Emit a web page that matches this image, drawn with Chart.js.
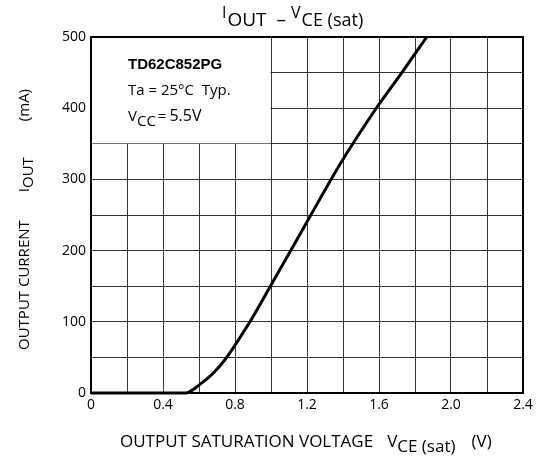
<!DOCTYPE html>
<html>
<head>
<meta charset="utf-8">
<script src="https://cdn.jsdelivr.net/npm/chart.js@4/dist/chart.umd.min.js"></script>
<style>
  html, body { margin: 0; padding: 0; background: #fff; }
  #wrap { width: 541px; height: 457px; }
</style>
</head>
<body>
<div id="wrap"><canvas id="ioutChart" width="541" height="457"></canvas></div>
<script>
// curve: VCE(sat) in V, IOUT in mA
const vceSat = [0, 0.53, 0.60, 0.68, 0.754, 0.883, 0.99, 1.19, 1.38, 1.59, 1.73, 1.865];
const iOut   = [0, 0,    11,   28,   50,    100,   147,  236,  320,  402,  451,  500];

// labelled ticks (grid runs every 0.2 V / 50 mA)
const xTickLabels = ['0', '0.4', '0.8', '1.2', '1.6', '2.0', '2.4'];
const yTickLabels = ['0', '100', '200', '300', '400', '500'];

const FONT = '"Open Sans", "DejaVu Sans", sans-serif';
const f = (size, bold) => (bold ? 'bold ' : '') + size + 'px ' + FONT;

// draw a run of text pieces (for the subscripts)
function drawRich(ctx, x, y, parts, align) {
  let total = 0;
  parts.forEach(p => {
    ctx.font = p.font;
    p.w = ctx.measureText(p.t).width + (p.gap || 0);
    total += p.w;
  });
  let cx = align === 'center' ? x - total / 2 : x;
  parts.forEach(p => {
    ctx.font = p.font;
    ctx.fillText(p.t, cx, y + (p.dy || 0));
    cx += p.w;
  });
}

const textPlugin = {
  id: 'datasheetText',
  beforeDatasetsDraw(chart) {
    const ctx = chart.ctx;
    const xs = chart.scales.x, ys = chart.scales.y;
    // white note box over the upper-left grid cells
    const l = xs.getPixelForValue(0), r = xs.getPixelForValue(1.0);
    const t = ys.getPixelForValue(500), b = ys.getPixelForValue(350);
    ctx.save();
    ctx.fillStyle = '#fff';
    ctx.fillRect(l + 1, t + 1, r - l - 1.5, b - t - 1.5);
    ctx.fillStyle = '#000';
    ctx.textBaseline = 'alphabetic';
    ctx.textAlign = 'left';
    ctx.font = 'bold 15px "Liberation Sans", Arial, sans-serif';
    ctx.fillText('TD62C852PG', 128, 69);
    drawRich(ctx, 128, 95, [{ t: 'Ta = 25°C  Typ.', font: f(15) }], 'left');
    drawRich(ctx, 128, 121, [
      { t: 'V', font: f(15) },
      { t: 'CC', font: f(15), dy: 5, gap: 2 },
      { t: '=', font: f(15), gap: 3 },
      { t: '5.5V', font: f(16) }
    ], 'left');
    ctx.restore();
  },
  afterDatasetsDraw(chart) {
    const ctx = chart.ctx;
    const a = chart.chartArea;
    ctx.save();
    ctx.strokeStyle = '#000';
    ctx.lineWidth = 2;
    ctx.strokeRect(a.left, a.top, a.right - a.left, a.bottom - a.top);

    ctx.fillStyle = '#000';
    ctx.textBaseline = 'alphabetic';
    // title
    drawRich(ctx, 222, 26, [
      { t: 'I', font: f(16), dy: -8, gap: 1 },
      { t: 'OUT', font: f(19), gap: 10 },
      { t: '–', font: f(19), gap: 5 },
      { t: 'V', font: f(16), dy: -8, gap: 1 },
      { t: 'CE (sat)', font: f(18) }
    ], 'left');
    // x axis title
    drawRich(ctx, 120, 447, [
      { t: 'OUTPUT SATURATION VOLTAGE', font: f(17), gap: 14 },
      { t: 'V', font: f(17) },
      { t: 'CE (sat)', font: f(17), dy: 5, gap: 16 },
      { t: '(V)', font: f(17) }
    ], 'left');
    // y axis title, reading upwards
    ctx.translate(29, 350);
    ctx.rotate(-Math.PI / 2);
    drawRich(ctx, 0, 0, [
      { t: 'OUTPUT CURRENT', font: f(15), gap: 28 },
      { t: 'I', font: f(15) },
      { t: 'OUT', font: f(15), dy: 4, gap: 36 },
      { t: '(mA)', font: f(15) }
    ], 'left');
    ctx.restore();
  }
};

const ctx = document.getElementById('ioutChart').getContext('2d');

const chart = new Chart(ctx, {
  type: 'line',
  data: {
    datasets: [{
      data: vceSat.map((v, i) => ({ x: v, y: iOut[i] })),
      borderColor: '#000',
      borderWidth: 3,
      pointRadius: 0,
      tension: 0.25,
      clip: false,
      fill: false
    }]
  },
  options: {
    responsive: false,
    animation: false,
    layout: { padding: { top: 37, right: 18, left: 0, bottom: 0 } },
    plugins: {
      legend: { display: false },
      tooltip: { enabled: false },
      title: { display: false }
    },
    scales: {
      x: {
        type: 'linear',
        min: 0,
        max: 2.4,
        afterFit: s => { s.height = 64; },
        grid: { color: '#333', lineWidth: 1, drawTicks: false },
        border: { display: true, color: '#000', width: 2 },
        ticks: {
          stepSize: 0.2,
          autoSkip: false,
          maxRotation: 0,
          padding: 4,
          color: '#000',
          font: { family: FONT, size: 14 },
          callback: v => {
            const lbl = xTickLabels.find(s => Math.abs(parseFloat(s) - v) < 1e-6);
            return lbl === undefined ? '' : lbl;
          }
        }
      },
      y: {
        type: 'linear',
        min: 0,
        max: 500,
        afterFit: s => { s.width = 91; },
        grid: { color: '#333', lineWidth: 1, drawTicks: false },
        border: { display: true, color: '#000', width: 2 },
        ticks: {
          stepSize: 50,
          autoSkip: false,
          padding: 5,
          color: '#000',
          font: { family: FONT, size: 14 },
          callback: v => yTickLabels.includes(String(v)) ? String(v) : ''
        }
      }
    }
  },
  plugins: [textPlugin]
});
</script>
</body>
</html>
